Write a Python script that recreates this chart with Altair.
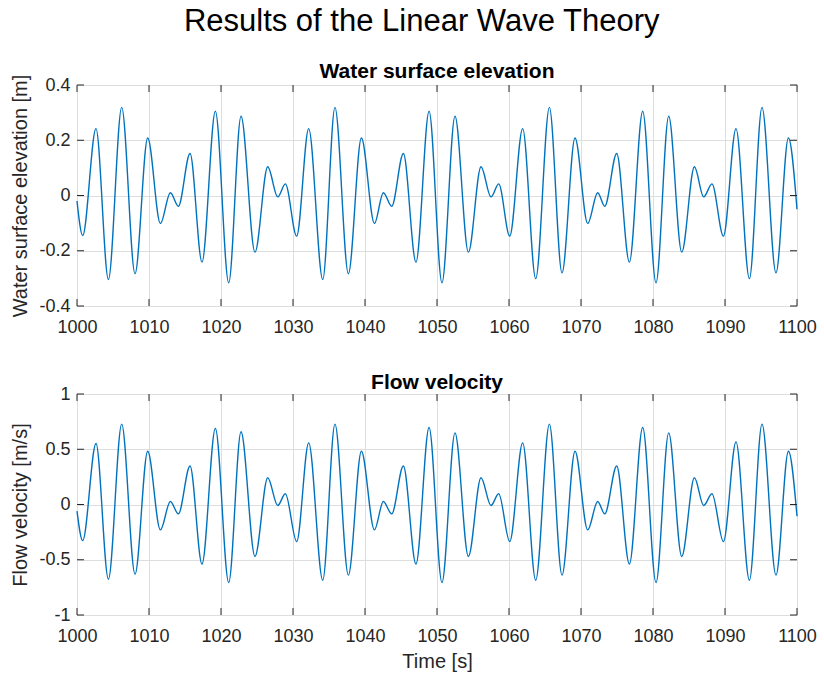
import altair as alt
import pandas as pd

# ---- data (times of turning points, in s) ----
time_s = [1000.0, 1000.79, 1002.64, 1004.36, 1006.21, 1008.06, 1009.82, 1011.58,
          1012.97, 1014.08, 1015.70, 1017.36, 1019.22, 1021.07, 1022.78, 1024.72,
          1026.49, 1027.88, 1028.94, 1030.51, 1032.18, 1034.13, 1035.83, 1037.69,
          1039.50, 1041.31, 1042.55, 1043.71, 1045.33, 1047.08, 1048.90, 1050.69,
          1052.50, 1054.36, 1056.11, 1057.50, 1058.57, 1060.10, 1061.90, 1063.71,
          1065.61, 1067.36, 1069.17, 1070.93, 1072.32, 1073.30, 1074.96, 1076.72,
          1078.57, 1080.42, 1082.18, 1083.99, 1085.75, 1087.04, 1088.19, 1089.78,
          1091.53, 1093.39, 1095.14, 1097.08, 1098.81, 1100.0]

elevation_m = [-0.02, -0.145, 0.242, -0.304, 0.319, -0.283, 0.208, -0.101,
               0.010, -0.039, 0.152, -0.241, 0.305, -0.316, 0.287, -0.205,
               0.104, -0.005, 0.042, -0.147, 0.242, -0.304, 0.319, -0.283,
               0.208, -0.101, 0.010, -0.039, 0.152, -0.241, 0.305, -0.316,
               0.287, -0.205, 0.104, -0.005, 0.042, -0.147, 0.242, -0.301,
               0.319, -0.280, 0.208, -0.101, 0.010, -0.039, 0.152, -0.241,
               0.305, -0.316, 0.287, -0.205, 0.104, -0.005, 0.042, -0.147,
               0.242, -0.301, 0.319, -0.280, 0.208, -0.050]

velocity_ms = [-0.06, -0.327, 0.552, -0.676, 0.727, -0.630, 0.482, -0.230,
               0.027, -0.085, 0.348, -0.539, 0.688, -0.706, 0.658, -0.470,
               0.242, -0.009, 0.097, -0.336, 0.558, -0.685, 0.727, -0.639,
               0.482, -0.230, 0.027, -0.085, 0.348, -0.539, 0.697, -0.706,
               0.648, -0.470, 0.242, -0.009, 0.097, -0.336, 0.558, -0.685,
               0.727, -0.639, 0.482, -0.230, 0.027, -0.085, 0.348, -0.539,
               0.697, -0.706, 0.648, -0.470, 0.242, -0.009, 0.097, -0.336,
               0.567, -0.685, 0.727, -0.639, 0.482, -0.106]

x_ticks = [1000, 1010, 1020, 1030, 1040, 1050, 1060, 1070, 1080, 1090, 1100]
eta_ticks = [-0.4, -0.2, 0, 0.2, 0.4]
u_ticks = [-1, -0.5, 0, 0.5, 1]

# ---- style ----
W, H = 720, 221
FONT = "Liberation Sans"
LINE = "#0072BD"
AX = "#262626"
GRID = "#dedede"
TICK = 7
LABEL_EXPR = "datum.value < 0 ? '-' + format(-datum.value, '') : format(datum.value, '')"


def panel(values, ycol, yticks, ydomain, ytitle, title, show_xtitle):
    df = pd.DataFrame({"t": time_s, ycol: values})
    xaxis = alt.Axis(values=x_ticks, format="d", grid=True, gridColor=GRID, gridWidth=1,
                     ticks=False, tickSize=0, domain=False, labelPadding=12,
                     labelFlush=False, labelFontSize=18, labelColor=AX, labelFont=FONT,
                     titleFontSize=20, titleColor=AX, titleFont=FONT,
                     titleFontWeight="normal", titlePadding=6)
    yaxis = alt.Axis(values=yticks, labelExpr=LABEL_EXPR, grid=True, gridColor=GRID,
                     gridWidth=1, ticks=False, tickSize=0, domain=False, labelPadding=7,
                     labelFontSize=18, labelColor=AX, labelFont=FONT,
                     titleFontSize=20, titleColor=AX, titleFont=FONT,
                     titleFontWeight="normal", titlePadding=8)
    xenc = alt.X("t:Q", scale=alt.Scale(domain=[1000, 1100], nice=False, zero=False),
                 axis=xaxis, title=("Time [s]" if show_xtitle else None))
    yenc = alt.Y(f"{ycol}:Q", scale=alt.Scale(domain=ydomain, nice=False, zero=False),
                 axis=yaxis, title=ytitle)

    line = alt.Chart(df).mark_line(color=LINE, strokeWidth=1.4, interpolate="monotone").encode(
        x=xenc, y=yenc)

    xt = pd.DataFrame({"t": x_ticks})
    yt = pd.DataFrame({ycol: yticks})
    bot = alt.Chart(xt).mark_rule(color=AX, strokeWidth=1).encode(
        x=xenc, y=alt.value(H), y2=alt.value(H - TICK))
    top = alt.Chart(xt).mark_rule(color=AX, strokeWidth=1).encode(
        x=xenc, y=alt.value(0), y2=alt.value(TICK))
    left = alt.Chart(yt).mark_rule(color=AX, strokeWidth=1).encode(
        y=yenc, x=alt.value(0), x2=alt.value(TICK))
    right = alt.Chart(yt).mark_rule(color=AX, strokeWidth=1).encode(
        y=yenc, x=alt.value(W), x2=alt.value(W - TICK))

    return alt.layer(line, bot, top, left, right).properties(
        width=W, height=H,
        title=alt.TitleParams(title, fontSize=21, fontWeight="bold", font=FONT,
                              color="black", anchor="middle", offset=-8))


p1 = panel(elevation_m, "eta", eta_ticks, [-0.4, 0.4],
           "Water surface elevation [m]", "Water surface elevation", False)
p2 = panel(velocity_ms, "u", u_ticks, [-1, 1],
           "Flow velocity [m/s]", "Flow velocity", True)

chart = alt.vconcat(p1, p2, spacing=34).properties(
    title=alt.TitleParams("Results of the Linear Wave Theory", fontSize=31,
                          fontWeight="normal", font=FONT, color="black",
                          anchor="middle", dx=8, offset=23),
    padding={"left": 10, "top": 5, "right": 3, "bottom": 5},
).configure_view(stroke=AX, strokeWidth=1).configure(font=FONT, background="white")

chart.save("out.html", embed_options={"renderer": "svg", "actions": False})
